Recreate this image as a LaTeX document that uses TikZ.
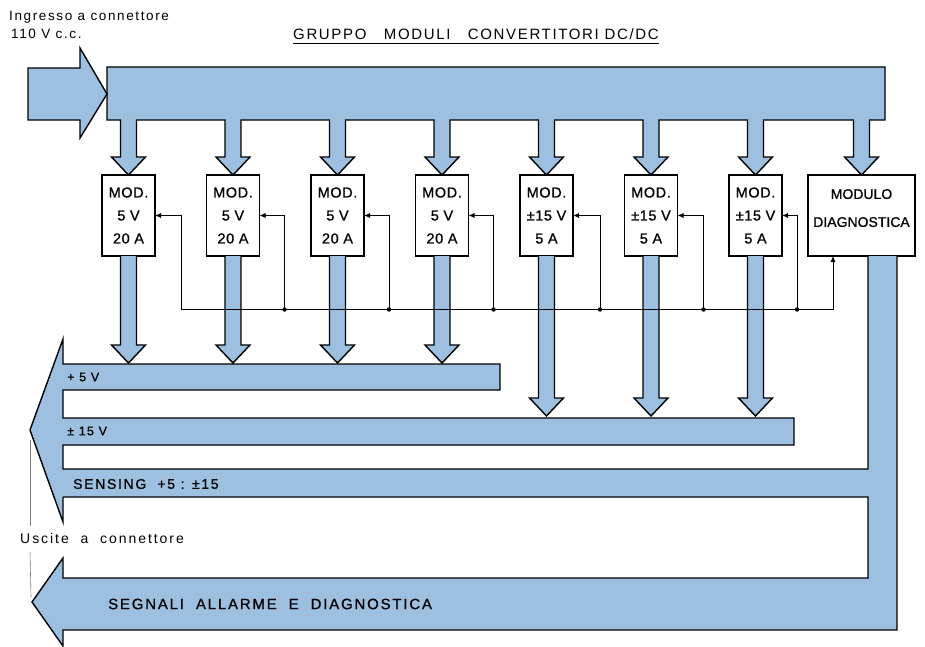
\documentclass[tikz,border=0pt]{standalone}
\usepackage{fontspec}
\setmainfont{Liberation Sans}
\usetikzlibrary{arrows.meta,positioning,calc}
\definecolor{busblue}{HTML}{9DBFE0}

\begin{document}
\begin{tikzpicture}[x=1pt,y=-1pt,node distance=51.5pt,fat/.style={fill=busblue,draw=black,line width=1.4pt},busline/.style={draw=black,line width=1.4pt},modbox/.style={draw,line width=1.2pt,fill=white,align=center,minimum width=53pt,minimum height=81pt,inner sep=1pt,outer sep=0pt,font=\fontsize{14.5}{23}\selectfont\addfontfeature{LetterSpace=4,FakeBold=0.8}},sense/.style={line width=0.8pt,-{Latex[length=6pt,width=5pt]}},lbl/.style={inner sep=0pt,align=left}]
\useasboundingbox (0,0) rectangle (925,646);
\node[modbox] (m1) at (128.5,215.5) {MOD.\\5 V\\20 A};
\node[modbox,right=of m1] (m2) {MOD.\\5 V\\20 A};
\node[modbox,right=of m2] (m3) {MOD.\\5 V\\20 A};
\node[modbox,right=of m3] (m4) {MOD.\\5 V\\20 A};
\node[modbox,right=of m4] (m5) {MOD.\\±15 V\\5 A};
\node[modbox,right=of m5] (m6) {MOD.\\±15 V\\5 A};
\node[modbox,right=of m6] (m7) {MOD.\\±15 V\\5 A};
\node[modbox,right=26pt of m7,minimum width=107pt,font=\fontsize{14}{23}\selectfont\addfontfeature{FakeBold=0.8}] (dg) {MODULO\\[5pt]DIAGNOSTICA\\[-8pt]\mbox{}};
\fill[busblue] (63,339) -- (30,430) -- (63,522) -- cycle (63,364) rectangle (500,390) (63,418) rectangle (794,445) (63,469) rectangle (897,497) (868,256) rectangle (897,630) (63,578) rectangle (897,630) (63,558) -- (32,602) -- (63,646) -- cycle;
\draw[busline] (63,497) -- (63,522) -- (30,430) -- (63,339) -- (63,364) -- (500,364) -- (500,390) -- (63,390) -- (63,418) -- (794,418) -- (794,445) -- (63,445) -- (63,469) -- (868,469) -- (868,256);
\draw[busline] (897,256) -- (897,630) -- (63,630) -- (63,646) -- (32,602) -- (63,558) -- (63,578) -- (868,578) -- (868,497) -- (63,497);
\foreach \i in {1,...,4} \filldraw[fat] ($(m\i.south)+(-8,0)$) -- ++(0,89) -- ++(-9,0) -- ++(17,18) -- ++(17,-18) -- ++(-9,0) -- ++(0,-89);
\foreach \i in {5,6,7} \filldraw[fat] ($(m\i.south)+(-8,0)$) -- ++(0,142) -- ++(-9,0) -- ++(17,18) -- ++(17,-18) -- ++(-9,0) -- ++(0,-142);
\filldraw[fat] (107,67) -- (885,67) -- (885,120) foreach \n in {dg,m7,m6,m5,m4,m3,m2,m1} { -- ($(\n.north)+(8,-55)$) -- ++(0,37) -- ++(9,0) -- ++(-17,18) -- ++(-17,-18) -- ++(9,0) -- ++(0,-37) } -- (107,120) -- cycle;
\filldraw[fat] (28,68) -- (80,68) -- (80,48) -- (107,94) -- (80,138) -- (80,120) -- (28,120) -- cycle;
\coordinate (s1) at ($(m1.east)+(26,94)$);
\coordinate (s2) at ($(m2.east)+(25,94)$);
\coordinate (s3) at ($(m3.east)+(25,94)$);
\coordinate (s4) at ($(m4.east)+(25,94)$);
\coordinate (s5) at ($(m5.east)+(27,94)$);
\coordinate (s6) at ($(m6.east)+(26,94)$);
\coordinate (s7) at ($(m7.east)+(15,94)$);
\coordinate (sd) at ($(dg.south west)+(25,0)$);
\foreach \i in {1,...,7} \draw[sense] (s\i) |- (m\i.east);
\draw[sense] (s1) -| (sd);
\foreach \i in {2,...,7} \fill (s\i) circle (2.2pt);
\node[lbl,anchor=north west,font=\fontsize{13.5}{18}\selectfont\addfontfeature{LetterSpace=12}] (inp) at (9,11) {Ingresso a connettore\\\hspace{2pt}110 V c.c.};
\node[lbl,anchor=base,font=\fontsize{15}{15}\selectfont\addfontfeature{LetterSpace=11}] (title) at (476,39) {GRUPPO\ \ \ MODULI\ \ \ CONVERTITORI\ DC/DC};
\draw[line width=0.8pt] ($(title.base west)+(0,4)$) -- ($(title.base east)+(0,4)$);
\node[lbl,anchor=west,font=\fontsize{12.5}{13}\selectfont\addfontfeature{LetterSpace=10,FakeBold=0.8}] (v5) at (67,377) {+ 5 V};
\node[lbl,anchor=west,font=\fontsize{12.5}{13}\selectfont\addfontfeature{LetterSpace=10,FakeBold=0.8}] (v15) at (67,431) {± 15 V};
\node[lbl,anchor=west,font=\fontsize{14}{14}\selectfont\addfontfeature{LetterSpace=12,FakeBold=0.8}] (sns) at (73,484) {SENSING\ \ +5 : ±15};
\node[lbl,anchor=west,font=\fontsize{15}{15}\selectfont\addfontfeature{LetterSpace=12,FakeBold=0.8}] (sgn) at (108,604) {SEGNALI\ \ ALLARME\ \ E\ \ DIAGNOSTICA};
\node[lbl,anchor=west,font=\fontsize{14}{14}\selectfont\addfontfeature{LetterSpace=14}] (out) at (20,538) {Uscite\ \ a\ \ connettore};
\draw[gray,line width=0.6pt] (30,440) -- (30,526);
\draw[gray,line width=0.6pt] (30,552) -- (31,597);
\end{tikzpicture}
\end{document}
